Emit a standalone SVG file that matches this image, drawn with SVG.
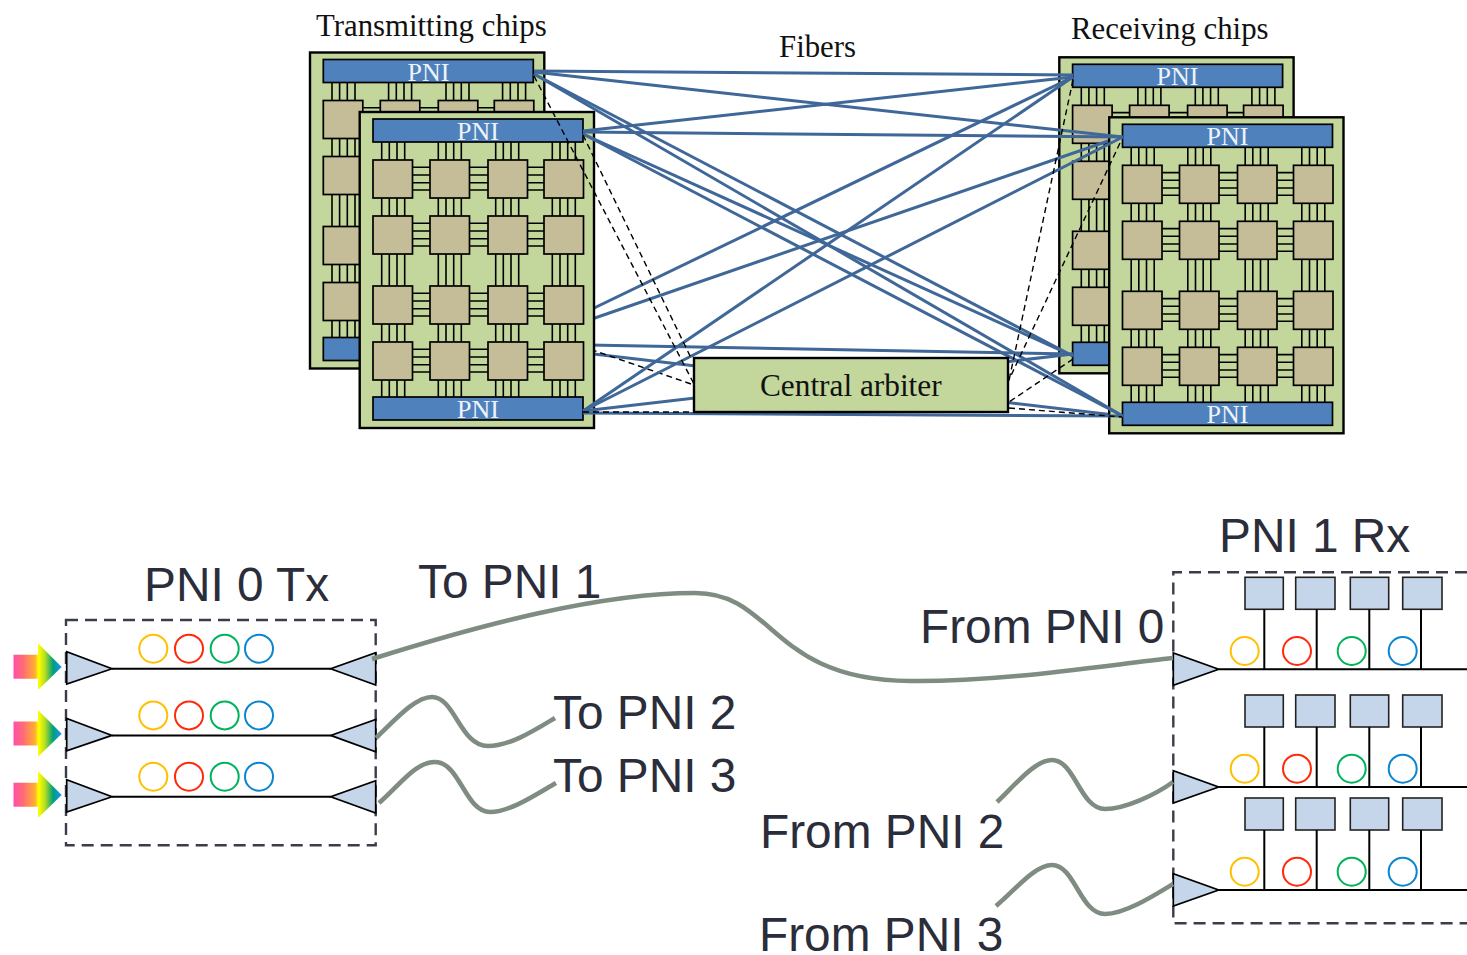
<svg xmlns="http://www.w3.org/2000/svg" xmlns:xlink="http://www.w3.org/1999/xlink" width="1467" height="955" viewBox="0 0 1467 955">
<style>
.outer{fill:#c3d69b;stroke:#000;stroke-width:2.4}
.bar{fill:#4f81bd;stroke:#000;stroke-width:1.7}
.tile{fill:#c4bd97;stroke:#000;stroke-width:1.7}
.bus{fill:none;stroke:#000;stroke-width:1.6}
.pni{font-family:"Liberation Serif",serif;font-size:26px;fill:#eef3fa;text-anchor:middle}
.serif{font-family:"Liberation Serif",serif;font-size:30.8px;fill:#111}
.lab{font-family:"Liberation Sans",Arial,sans-serif;font-size:47.8px;fill:#2b2d3a}
.w{stroke:#3f6798;stroke-width:3;fill:none}
.d{stroke:#000;stroke-width:1.4;stroke-dasharray:6 4;fill:none}
.box{fill:none;stroke:#3a3d4a;stroke-width:2.4;stroke-dasharray:12 7}
.tri{fill:#c5d6ea;stroke:#000;stroke-width:1.7}
.ln{stroke:#000;stroke-width:2;fill:none}
.sq{fill:#c5d6ea;stroke:#222;stroke-width:1.6}
.c1,.c2,.c3,.c4{fill:none;stroke-width:2}
.c1{stroke:#ffc000}.c2{stroke:#ff2a0a}.c3{stroke:#00b35a}.c4{stroke:#0b85d0}
.fib{fill:none;stroke:#7f8c82;stroke-width:4.6}
</style>
<defs>
<linearGradient id="rb" x1="0" y1="0" x2="1" y2="0">
<stop offset="0" stop-color="#ff4fa8"/><stop offset=".2" stop-color="#ff6a78"/><stop offset=".45" stop-color="#ffb030"/><stop offset=".52" stop-color="#ffff00"/><stop offset=".65" stop-color="#b8e020"/><stop offset=".82" stop-color="#00a078"/><stop offset="1" stop-color="#1e90ff"/>
</linearGradient>
<path id="rainbow" fill="url(#rb)" d="M13.5 654.7H38V643.3L61.7 667L38 690V678.7H13.5Z"/>
<g id="chip">
<rect class="outer" x="359.7" y="112" width="234.3" height="316"/>
<path class="bus" d="M381.7 142V397M389.3 142V397M397 142V397M404.7 142V397M438.3 142V397M446 142V397M453.7 142V397M461.3 142V397M495.7 142V397M503.3 142V397M511 142V397M518.7 142V397M552.3 142V397M560 142V397M567.7 142V397M575.3 142V397M413 167.3H544M413 175H544M413 182.7H544M413 190H544M413 223.3H544M413 231H544M413 238.7H544M413 246H544M413 293.3H544M413 301H544M413 308.7H544M413 316H544M413 349.3H544M413 357H544M413 364.7H544M413 372H544"/>
<rect class="bar" x="373" y="119" width="210" height="23"/>
<rect class="bar" x="373" y="397" width="210" height="23"/>
<g class="tile">
<rect x="373" y="160" width="39.5" height="38"/><rect x="430" y="160" width="39.5" height="38"/><rect x="488" y="160" width="39.5" height="38"/><rect x="544" y="160" width="39.5" height="38"/>
<rect x="373" y="216" width="39.5" height="38"/><rect x="430" y="216" width="39.5" height="38"/><rect x="488" y="216" width="39.5" height="38"/><rect x="544" y="216" width="39.5" height="38"/>
<rect x="373" y="286" width="39.5" height="38"/><rect x="430" y="286" width="39.5" height="38"/><rect x="488" y="286" width="39.5" height="38"/><rect x="544" y="286" width="39.5" height="38"/>
<rect x="373" y="342" width="39.5" height="38"/><rect x="430" y="342" width="39.5" height="38"/><rect x="488" y="342" width="39.5" height="38"/><rect x="544" y="342" width="39.5" height="38"/>
</g>
</g>
<g id="rxrow">
<rect class="sq" x="1245" y="577.3" width="38.3" height="32"/><rect class="sq" x="1295.7" y="577.3" width="39.3" height="32"/><rect class="sq" x="1350.3" y="577.3" width="38.4" height="32"/><rect class="sq" x="1402.7" y="577.3" width="39.3" height="32"/>
<path class="ln" d="M1264.3 609.3V669.3M1316.7 609.3V669.3M1369.3 609.3V669.3M1421 609.3V669.3M1218.7 669.3H1467"/>
<path class="tri" d="M1173.3 653V685.3L1218.7 669.3Z"/>
<circle class="c1" cx="1244.7" cy="651" r="14"/><circle class="c2" cx="1297" cy="651" r="14"/><circle class="c3" cx="1351.7" cy="651" r="14"/><circle class="c4" cx="1402.7" cy="651" r="14"/>
</g>
<g id="txcircles">
<circle class="c1" cx="153.3" cy="648.7" r="14"/><circle class="c2" cx="189" cy="648.7" r="14"/><circle class="c3" cx="224.7" cy="648.7" r="14"/><circle class="c4" cx="259" cy="648.7" r="14"/>
<path class="ln" d="M112 668.7H331"/>
<path class="tri" d="M66.7 651.7V684L112 668.7Z"/>
<path class="tri" d="M375.7 652.7V685L330.7 668.7Z"/>
</g>
</defs>
<rect width="1467" height="955" fill="#fff"/>

<g id="tx-chip-back"><use xlink:href="#chip" href="#chip" transform="translate(-49.7 -59.5)"/><text class="pni" x="428.5" y="80.7">PNI</text></g>
<g id="rx-chip-back"><use xlink:href="#chip" href="#chip" transform="translate(699.6 -54.7)"/><text class="pni" x="1177.5" y="85">PNI</text></g>

<g id="connectors-rear">
<line class="w" x1="534" y1="337" x2="1073" y2="77"/>
<line class="w" x1="534" y1="339" x2="1122.7" y2="136"/>
<line class="w" x1="534" y1="344" x2="1073" y2="354"/>
<line class="w" x1="534" y1="347" x2="1122.7" y2="416"/>
<line class="d" x1="534" y1="330" x2="694" y2="385"/>
</g>

<g id="tx-chip-front"><use xlink:href="#chip" href="#chip"/><text class="pni" x="478" y="140">PNI</text><text class="pni" x="478" y="418">PNI</text></g>
<g id="rx-chip-front"><use xlink:href="#chip" href="#chip" transform="translate(749.5 5.3)"/><text class="pni" x="1227.5" y="145">PNI</text><text class="pni" x="1227.5" y="423">PNI</text></g>

<g id="connectors-front">
<line class="w" x1="534" y1="71" x2="1073" y2="75"/>
<line class="w" x1="534" y1="72" x2="1122.7" y2="137"/>
<line class="w" x1="534" y1="74" x2="1073" y2="356"/>
<line class="w" x1="534" y1="74" x2="1122.7" y2="416"/>
<line class="w" x1="583" y1="131" x2="1073" y2="77"/>
<line class="w" x1="583" y1="132" x2="1122.7" y2="137"/>
<line class="w" x1="583" y1="134" x2="1073" y2="356"/>
<line class="w" x1="583" y1="134" x2="1122.7" y2="416"/>
<line class="w" x1="583" y1="411" x2="1073" y2="77"/>
<line class="w" x1="583" y1="411" x2="1122.7" y2="137"/>
<line class="w" x1="583" y1="411" x2="1073" y2="354"/>
<line class="w" x1="583" y1="413" x2="1122.7" y2="416"/>
<line class="d" x1="534" y1="76" x2="694" y2="384"/>
<line class="d" x1="583" y1="135" x2="692" y2="360"/>
<line class="d" x1="583" y1="412" x2="694" y2="412"/>
<line class="d" x1="1073" y1="80" x2="1008" y2="385"/>
<line class="d" x1="1120" y1="143" x2="1008" y2="382"/>
<line class="d" x1="1073" y1="359" x2="1009" y2="402"/>
<line class="d" x1="1009" y1="408" x2="1122" y2="417"/>
</g>

<g id="central-arbiter">
<rect class="outer" x="694" y="358" width="314" height="54"/>
<text class="serif" x="760" y="396" style="font-size:31.3px">Central arbiter</text>
</g>

<text class="serif" x="316" y="35.5">Transmitting chips</text>
<text class="serif" x="779" y="56.5">Fibers</text>
<text class="serif" x="1071" y="38.5">Receiving chips</text>

<g id="pni0-tx">
<rect class="box" x="66" y="620" width="309.7" height="225.3"/>
<use xlink:href="#rainbow" href="#rainbow"/>
<use xlink:href="#rainbow" href="#rainbow" transform="translate(0 66.7)"/>
<use xlink:href="#rainbow" href="#rainbow" transform="translate(0 128)"/>
<use xlink:href="#txcircles" href="#txcircles"/>
<use xlink:href="#txcircles" href="#txcircles" transform="translate(0 66.7)"/>
<use xlink:href="#txcircles" href="#txcircles" transform="translate(0 128)"/>
<text class="lab" x="144" y="601">PNI 0 Tx</text>
</g>

<g id="pni1-rx">
<path class="box" d="M1467 572.3H1173.3V923.3H1467"/>
<use xlink:href="#rxrow" href="#rxrow"/>
<use xlink:href="#rxrow" href="#rxrow" transform="translate(0 117.7)"/>
<use xlink:href="#rxrow" href="#rxrow" transform="translate(0 220.7)"/>
<text class="lab" x="1219" y="552">PNI 1 Rx</text>
</g>

<g id="connectors-fibers">
<path class="fib" d="M372 659C480 625 600 593 695 593C775 593 770 680 910 681C1000 682 1100 666 1173 658"/>
<path class="fib" d="M376 738C395 720 415 697 432 697C455 697 460 746 488 746C510 746 535 730 555 718"/>
<path class="fib" d="M379 803C400 785 415 762 435 762C460 762 465 812 490 812C510 812 535 795 556 783"/>
<path class="fib" d="M997 802C1015 785 1035 760 1052 760C1075 760 1080 809 1105 809C1125 809 1155 795 1173 782"/>
<path class="fib" d="M996 906C1015 890 1035 865 1052 865C1075 865 1080 914 1105 914C1125 914 1155 895 1173 884"/>
</g>

<text class="lab" x="418" y="598">To PNI 1</text>
<text class="lab" x="920" y="643">From PNI 0</text>
<text class="lab" x="553" y="729">To PNI 2</text>
<text class="lab" x="553" y="792">To PNI 3</text>
<text class="lab" x="760" y="848">From PNI 2</text>
<text class="lab" x="759" y="951">From PNI 3</text>
</svg>
